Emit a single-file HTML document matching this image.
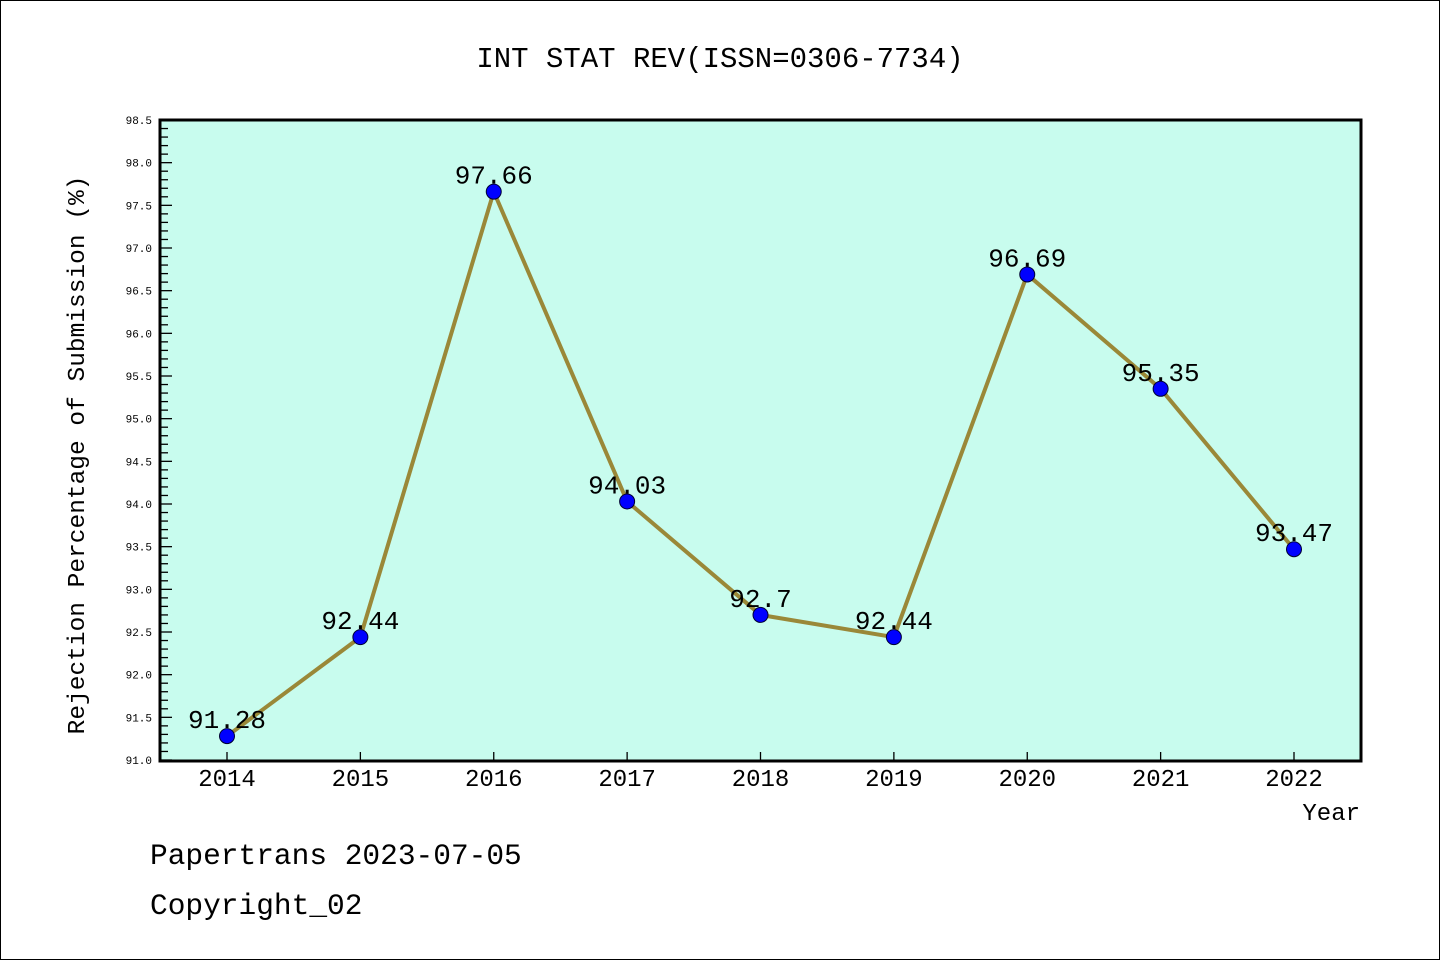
<!DOCTYPE html>
<html><head><meta charset="utf-8"><style>
body{margin:0;background:#fff}
svg{display:block}
text{font-family:"Liberation Mono","DejaVu Sans Mono",monospace}
</style></head><body>
<svg id="chart" width="1440" height="960" xmlns="http://www.w3.org/2000/svg">
<rect x="0.5" y="0.5" width="1439" height="959" fill="#fff" stroke="#000"/>
<text x="720" y="67" font-size="29" text-anchor="middle">INT STAT REV(ISSN=0306-7734)</text>
<rect x="160" y="120" width="1201" height="641" fill="#c8fcee"/>
<g id="axes"></g>
<g id="series"></g>
<rect x="160" y="120" width="1201" height="641" fill="none" stroke="#000" stroke-width="3"/>
<text transform="translate(84,455) rotate(-90)" font-size="24.5" text-anchor="middle">Rejection Percentage of Submission (%)</text>
<text x="1360" y="820" font-size="24" text-anchor="end">Year</text>
<text x="150" y="864" font-size="29.5">Papertrans 2023-07-05</text>
<text x="150" y="914" font-size="29.5">Copyright_02</text>
</svg>
<script>
const categories=["2014","2015","2016","2017","2018","2019","2020","2021","2022"];
const values=[91.28,92.44,97.66,94.03,92.7,92.44,96.69,95.35,93.47];
const valueLabels=["91.28","92.44","97.66","94.03","92.7","92.44","96.69","95.35","93.47"];
const yTicks=["91.0","91.5","92.0","92.5","93.0","93.5","94.0","94.5","95.0","95.5","96.0","96.5","97.0","97.5","98.0","98.5"];
const NS="http://www.w3.org/2000/svg";
const yMin=91,yMax=98.5,plotTop=120,plotBot=760;
function yPos(v){return plotBot-(v-yMin)/(yMax-yMin)*(plotBot-plotTop);}
function xPos(i){return 227+i*(1294-227)/(categories.length-1);}
function mk(tag,attrs,parent){const e=document.createElementNS(NS,tag);for(const k in attrs)e.setAttribute(k,attrs[k]);parent.appendChild(e);return e;}
const axesG=document.getElementById('axes'),seriesG=document.getElementById('series');
for(let k=0;k<=75;k++){const v=yMin+k*0.1;const major=k%5===0;
 const t=mk('line',{x1:160,x2:160+(major?12:8),y1:yPos(v),y2:yPos(v),stroke:'#000','stroke-width':1.3},axesG);
 
 }
yTicks.forEach(s=>{const t=mk('text',{x:152,y:yPos(parseFloat(s))+4,'font-size':11,'text-anchor':'end','font-family':'Liberation Sans, sans-serif'},axesG);t.textContent=s;
 
 });
categories.forEach((c,i)=>{const t=mk('line',{x1:xPos(i),x2:xPos(i),y1:760,y2:752,stroke:'#000','stroke-width':1.3},axesG);
 
 
 const l=mk('text',{x:xPos(i),y:786,'font-size':24,'text-anchor':'middle','font-family':'Liberation Sans, sans-serif'},axesG);l.textContent=c;
 
 });
const pl=mk('polyline',{points:values.map((v,i)=>xPos(i)+','+yPos(v)).join(' '),fill:'none',stroke:'#9a8838','stroke-width':4},seriesG);


values.forEach((v,i)=>{const c=mk('circle',{cx:xPos(i),cy:yPos(v),r:7.5,fill:'#0000ff',stroke:'#000033','stroke-width':1},seriesG);
 
 
 const t=mk('text',{x:xPos(i),y:yPos(v)-8,'font-size':26,'text-anchor':'middle','font-family':'Liberation Sans, sans-serif'},seriesG);t.textContent=valueLabels[i];
 
 });
</script>
</body></html>
